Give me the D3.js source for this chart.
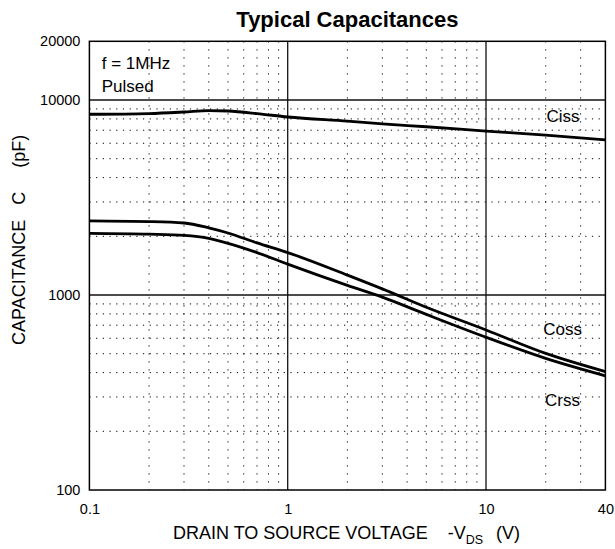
<!DOCTYPE html>
<html><head><meta charset="utf-8">
<script src="https://cdn.jsdelivr.net/npm/d3@7"></script>
<style>body{margin:0;background:#fff}svg{display:block;font-family:"Liberation Sans",Arial,sans-serif}</style>
</head><body><svg id="c" width="615" height="549"></svg>
<script>
const vds  = [0.1, 0.2, 0.3, 0.4, 0.5, 0.7, 1, 2, 3, 5, 10, 20, 40];
const ciss = [8450, 8520, 8680, 8830, 8780, 8520, 8180, 7790, 7550, 7290, 6930, 6600, 6240];
const coss = [2400, 2380, 2340, 2210, 2080, 1850, 1650, 1265, 1075, 865, 662, 502, 405];
const crss = [2070, 2050, 2020, 1950, 1840, 1650, 1440, 1120, 975, 795, 607, 473, 385];
const xTicks = [0.1, 1, 10, 40];
const yTicks = [100, 1000, 10000, 20000];
const xMinor = [0.2,0.3,0.4,0.5,0.6,0.7,0.8,0.9,2,3,4,5,6,7,8,9,20,30];
const yMinor = [200,300,400,500,600,700,800,900,2000,3000,4000,5000,6000,7000,8000,9000];
const xMajor = [1, 10];
const yMajor = [1000, 10000];

const svg = d3.select("#c");
const L = 89.4, R = 605.4, T = 41.3, B = 490;
const x = d3.scaleLog().domain([0.1, 40]).range([L, R]);
const y = d3.scaleLog().domain([100, 20000]).range([B, T]);

const g = svg.append("g");
g.selectAll(".vm").data(xMinor).join("line")
  .attr("x1", d => x(d)).attr("x2", d => x(d)).attr("y1", T).attr("y2", B)
  .attr("stroke", "#000").attr("stroke-width", 1).attr("stroke-dasharray", "1.2,6.8");
g.selectAll(".hm").data(yMinor).join("line")
  .attr("y1", d => y(d)).attr("y2", d => y(d)).attr("x1", L).attr("x2", R)
  .attr("stroke", "#000").attr("stroke-width", 1).attr("stroke-dasharray", "1.2,5.5");
g.selectAll(".vM").data(xMajor).join("line")
  .attr("x1", d => x(d)).attr("x2", d => x(d)).attr("y1", T).attr("y2", B)
  .attr("stroke", "#111").attr("stroke-width", 1.3);
g.selectAll(".hM").data(yMajor).join("line")
  .attr("y1", d => y(d)).attr("y2", d => y(d)).attr("x1", L).attr("x2", R)
  .attr("stroke", "#111").attr("stroke-width", 1.3);
g.append("rect").attr("x", L).attr("y", T).attr("width", R - L).attr("height", B - T)
  .attr("fill", "none").attr("stroke", "#000").attr("stroke-width", 1.5);

const xa = svg.append("g").attr("transform", `translate(0,${B})`)
  .call(d3.axisBottom(x).tickValues(xTicks).tickSize(0).tickPadding(14).tickFormat(d => String(d)));
xa.select(".domain").remove();
xa.selectAll("text").attr("font-size", 14.5).attr("fill", "#000").attr("font-family", "Liberation Sans, Arial, sans-serif");
const ya = svg.append("g").attr("transform", `translate(${L},0)`)
  .call(d3.axisLeft(y).tickValues(yTicks).tickSize(0).tickPadding(9).tickFormat(d => String(d)));
ya.select(".domain").remove();
ya.selectAll("text").attr("font-size", 14.5).attr("fill", "#000").attr("font-family", "Liberation Sans, Arial, sans-serif");

const line = d3.line().x(d => x(d[0])).y(d => y(d[1])).curve(d3.curveMonotoneX);
[ciss, coss, crss].forEach(s => {
  svg.append("path").attr("d", line(vds.map((v, i) => [v, s[i]])))
    .attr("fill", "none").attr("stroke", "#000").attr("stroke-width", 2.8);
});

const lab = (t, xx, yy, fs, anchor) => svg.append("text").attr("x", xx).attr("y", yy)
  .attr("font-size", fs).attr("text-anchor", anchor || "start").attr("fill", "#000").text(t);
lab("Typical Capacitances", (L + R) / 2, 27, 22, "middle").attr("font-weight", "bold");
lab("f = 1MHz", 101.7, 69.3, 17);
lab("Pulsed", 101.7, 91.7, 17);
lab("Ciss", 546.5, 122.3, 17);
lab("Coss", 543.3, 335, 17);
lab("Crss", 545, 405.7, 17);

const xt = svg.append("text").attr("x", 173).attr("y", 539).attr("font-size", 18).attr("fill", "#000");
xt.append("tspan").text("DRAIN TO SOURCE VOLTAGE");
xt.append("tspan").attr("dx", 20).text("-V");
xt.append("tspan").attr("font-size", 12.5).attr("dy", 5).text("DS");
xt.append("tspan").attr("dx", 13).attr("dy", -5).text("(V)");

const yt = svg.append("text").attr("transform", "translate(25,345) rotate(-90)")
  .attr("font-size", 18).attr("fill", "#000");
yt.append("tspan").text("CAPACITANCE");
yt.append("tspan").attr("dx", 15).text("C");
yt.append("tspan").attr("dx", 24).text("(pF)");
</script></body></html>
